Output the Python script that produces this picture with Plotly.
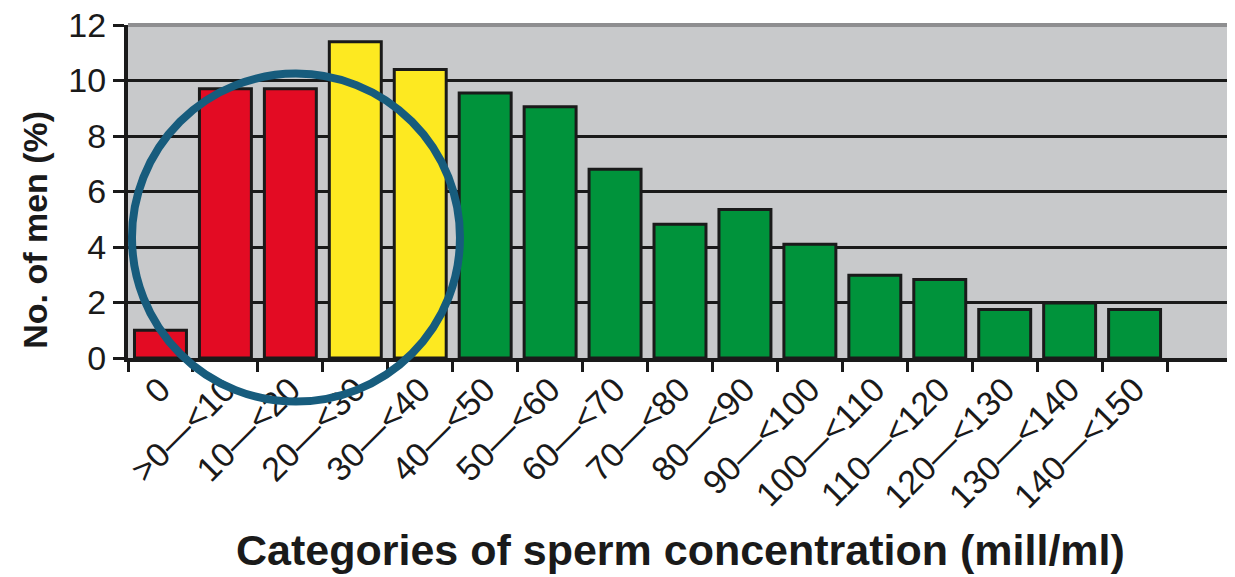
import plotly.graph_objects as go

categories = ["0", ">0—<10", "10—<20", "20—<30", "30—<40", "40—<50", "50—<60",
              "60—<70", "70—<80", "80—<90", "90—<100", "100—<110", "110—<120",
              "120—<130", "130—<140", "140—<150"]
values = [1.0, 9.7, 9.7, 11.4, 10.4, 9.55, 9.05, 6.8, 4.82, 5.35, 4.1, 2.98,
          2.83, 1.75, 1.98, 1.75]
groups = ["red"] * 3 + ["yellow"] * 2 + ["green"] * 11
y_ticks = [0, 2, 4, 6, 8, 10, 12]

palette = {"red": "#E30B23", "yellow": "#FDE921", "green": "#00933B"}
ink = "#1a1a1a"

n_slots = len(categories) + 1
centers = list(range(len(categories)))
boundaries = [i - 0.5 for i in range(n_slots + 1)]

fig = go.Figure()
fig.add_trace(go.Bar(
    x=centers, y=values, width=0.8,
    marker=dict(color=[palette[g] for g in groups], line=dict(color=ink, width=3)),
    hoverinfo="skip",
))

# page body has an 8px margin: figure is sized to fill the remaining window
fig.update_layout(
    width=1227, height=569,
    margin=dict(l=120, r=3, t=17, b=219, autoexpand=False),
    paper_bgcolor="white", plot_bgcolor="#C8C9CB",
    showlegend=False,
    font=dict(family="Liberation Sans, Arial, sans-serif", color=ink),
    xaxis=dict(
        automargin=False,
        range=[-0.5, n_slots - 0.5],
        tickmode="array", tickvals=centers, ticktext=categories,
        tickangle=-45, ticks="", showgrid=False, zeroline=False,
        tickfont=dict(size=34, color=ink),
        ticklabelstandoff=-6,
        showline=True, linecolor=ink, linewidth=4,
        minor=dict(tickmode="array", tickvals=boundaries, ticks="outside",
                   ticklen=10, tickwidth=3, tickcolor=ink, showgrid=False),
    ),
    yaxis=dict(
        automargin=False,
        range=[0, 12], tickmode="array", tickvals=y_ticks,
        ticks="outside", ticklen=11, tickwidth=3, tickcolor=ink,
        tickfont=dict(size=34, color=ink),
        ticklabeloverflow="allow",
        showgrid=True, gridcolor=ink, gridwidth=3, zeroline=False,
        showline=True, linecolor=ink, linewidth=4,
    ),
    shapes=[
        dict(type="line", xref="paper", yref="paper", x0=0, x1=1, y0=1, y1=1,
             line=dict(color="#8E8E90", width=4), layer="above"),
        dict(type="line", xref="paper", yref="paper", x0=1, x1=1, y0=0, y1=1,
             line=dict(color="#8E8E90", width=4), layer="above"),
        dict(type="circle", xref="paper", yref="paper",
             x0=0.0036, x1=0.3007, y0=-0.131, y1=0.854,
             line=dict(color="#175C7D", width=8), layer="above"),
    ],
    annotations=[
        dict(text="<b>Categories of sperm concentration (mill/ml)</b>",
             xref="paper", yref="paper", x=0.5, y=-0.576,
             showarrow=False, xanchor="center", yanchor="middle",
             font=dict(size=43, color=ink)),
        dict(text="<b>No. of men (%)</b>", textangle=-90,
             xref="paper", yref="paper", x=-0.0842, y=0.385,
             showarrow=False, xanchor="center", yanchor="middle",
             font=dict(size=34, color=ink)),
    ],
)

fig.write_html("out.html")
